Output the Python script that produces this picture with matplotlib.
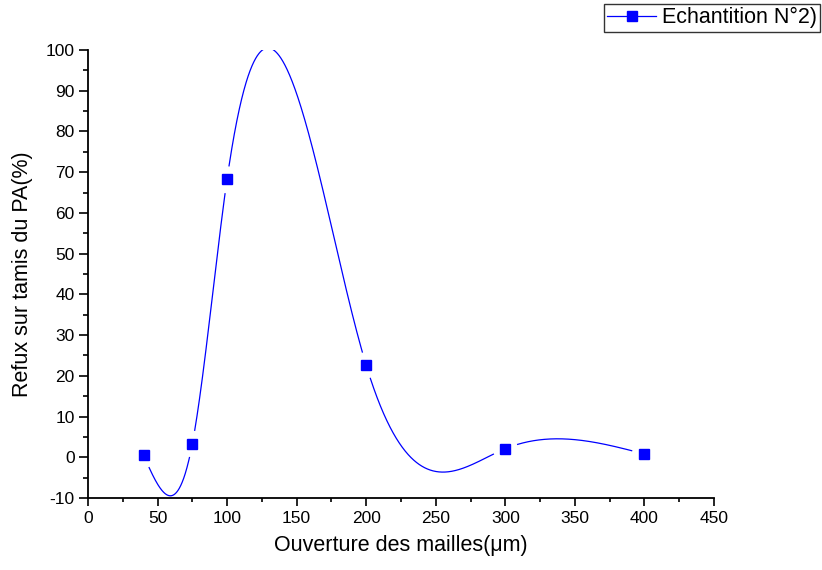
import numpy as np
import matplotlib
matplotlib.use("Agg")
import matplotlib.pyplot as plt
from matplotlib.ticker import MultipleLocator
from matplotlib.lines import Line2D

plt.rcParams['font.family'] = ['Liberation Sans', 'DejaVu Sans']
plt.rcParams['axes.unicode_minus'] = False

ouverture = [40, 75, 100, 200, 300, 400]
refus = [0.5, 3.3, 68.3, 22.6, 2.1, 0.8]
series_label = "Echantition N°2)"
xlabel = "Ouverture des mailles(μm)"
ylabel = "Refux sur tamis du PA(%)"


def natural_spline(x, y, xs):
    x = np.asarray(x, float); y = np.asarray(y, float)
    n = len(x)
    h = np.diff(x)
    A = np.zeros((n, n)); b = np.zeros(n)
    A[0, 0] = 1; A[-1, -1] = 1
    for i in range(1, n - 1):
        A[i, i - 1] = h[i - 1]
        A[i, i] = 2 * (h[i - 1] + h[i])
        A[i, i + 1] = h[i]
        b[i] = 3 * ((y[i + 1] - y[i]) / h[i] - (y[i] - y[i - 1]) / h[i - 1])
    c = np.linalg.solve(A, b)
    out = np.empty_like(xs)
    for k, xv in enumerate(xs):
        i = min(max(np.searchsorted(x, xv) - 1, 0), n - 2)
        dx = xv - x[i]
        bi = (y[i + 1] - y[i]) / h[i] - h[i] * (2 * c[i] + c[i + 1]) / 3
        di = (c[i + 1] - c[i]) / (3 * h[i])
        out[k] = y[i] + bi * dx + c[i] * dx ** 2 + di * dx ** 3
    return out


fig = plt.figure(figsize=(8.22, 5.70), dpi=100)
ax = fig.add_axes([0.107, 0.1263, 0.7616, 0.786])
ax.set_xlim(0, 450)
ax.set_ylim(-10, 100)

xs = np.linspace(min(ouverture), max(ouverture), 2000)
ys = natural_spline(ouverture, refus, xs)

# gaps around symbols (Origin style)
fig.canvas.draw()
pts = ax.transData.transform(np.column_stack([xs, ys]))
mk = ax.transData.transform(np.column_stack([ouverture, refus]))
mask = np.zeros(len(xs), bool)
for m in mk:
    mask |= np.hypot(pts[:, 0] - m[0], pts[:, 1] - m[1]) < 13
ys_plot = ys.copy()
ys_plot[mask] = np.nan

ax.plot(xs, ys_plot, color='#0000ff', lw=0.9)
ax.plot(ouverture, refus, ls='none', marker='s', ms=7.5, color='#0000ff', mec='#0000ff')

for s in ['top', 'right']:
    ax.spines[s].set_visible(False)
for s in ['left', 'bottom']:
    ax.spines[s].set_linewidth(1.3)

ax.xaxis.set_major_locator(MultipleLocator(50))
ax.xaxis.set_minor_locator(MultipleLocator(25))
ax.yaxis.set_major_locator(MultipleLocator(10))
ax.yaxis.set_minor_locator(MultipleLocator(5))
ax.tick_params(which='major', direction='out', width=1.2, labelsize=12.5)
ax.tick_params(axis='x', which='major', length=5.5, pad=4)
ax.tick_params(axis='y', which='major', length=6.5, pad=3)
ax.tick_params(axis='x', which='minor', direction='out', length=3, width=1.2)
ax.tick_params(axis='y', which='minor', direction='out', length=3.5, width=1.2)

ax.set_xlabel(xlabel, fontsize=15.5, labelpad=6)
ax.set_ylabel(ylabel, fontsize=15.5, labelpad=9)

handle = Line2D([], [], color='#0000ff', lw=0.9, marker='s', ms=7.5)
leg = fig.legend([handle], [series_label], loc='upper right',
                 bbox_to_anchor=(820 / 822, 1 - 4 / 570), fontsize=15.5, frameon=True,
                 fancybox=False, edgecolor='black', borderpad=0.15,
                 handlelength=2.3, handletextpad=0.25, borderaxespad=0)
leg.get_frame().set_linewidth(1.0)

fig.savefig('out.png', dpi=100)
